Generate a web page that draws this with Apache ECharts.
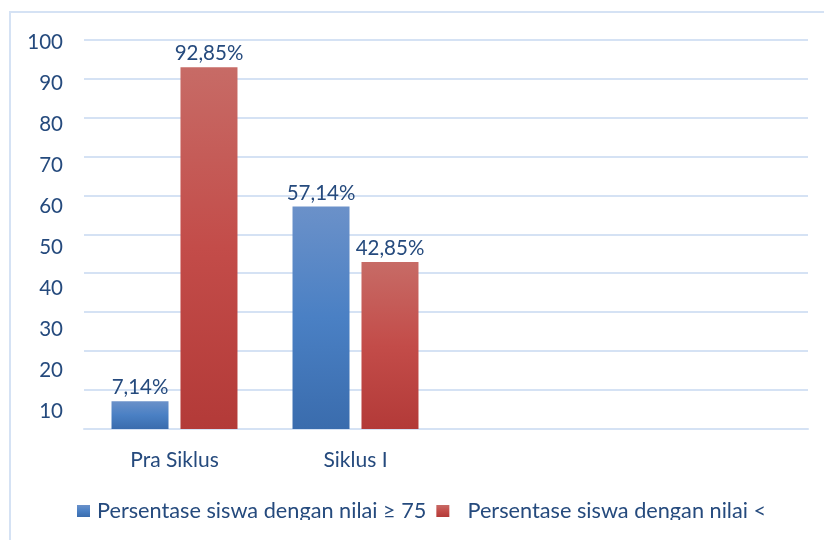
<!DOCTYPE html>
<html>
<head>
<meta charset="utf-8">
<script src="https://cdn.jsdelivr.net/npm/echarts@6/dist/echarts.min.js"></script>
<style>html,body{margin:0;padding:0;background:#fff}#c{width:824px;height:540px}</style>
</head>
<body>
<div id="c"></div>
<script>
var categories = ['Pra Siklus', 'Siklus I', '', ''];
var seriesNames = ['Persentase siswa dengan nilai \u2265 75', 'Persentase siswa dengan nilai <'];
var valuesAbove = [7.14, 57.14, null, null];
var valuesBelow = [92.85, 42.85, null, null];
var labelsAbove = ['7,14%', '57,14%', '', ''];
var labelsBelow = ['92,85%', '42,85%', '', ''];
var yTicks = [0, 10, 20, 30, 40, 50, 60, 70, 80, 90, 100];

var txt = '#254a7d';
var gridCol = '#d5e2f4';
var font = 'Lato';

var chart = echarts.init(document.getElementById('c'), null, {renderer: 'canvas'});
chart.setOption({
  animation: false,
  backgroundColor: '#fff',
  textStyle: {fontFamily: font},
  grid: [
    {left: 84, right: 16, top: 39.5, bottom: 111},
    {left: 84, right: 16, top: 42, bottom: 88}
  ],
  xAxis: [
    {type: 'category', gridIndex: 0, data: categories,
     axisLine: {show: true, lineStyle: {color: gridCol, width: 2}},
     axisTick: {show: false},
     axisLabel: {color: txt, fontSize: 21, fontFamily: font, margin: 21}},
    {type: 'category', gridIndex: 1, data: categories, show: false}
  ],
  yAxis: [
    {type: 'value', gridIndex: 0, min: 0, max: 100, interval: 10,
     axisLabel: {show: false}, axisLine: {show: false}, axisTick: {show: false},
     splitLine: {lineStyle: {color: gridCol, width: 2}}},
    {type: 'value', gridIndex: 1, min: yTicks[0], max: yTicks[yTicks.length - 1], interval: 10,
     axisLine: {show: false}, axisTick: {show: false}, splitLine: {show: false},
     axisLabel: {color: txt, fontSize: 20.5, fontFamily: font, margin: 21,
       formatter: function (v) { return v === 0 ? '' : String(v); }}}
  ],
  legend: {
    left: 72, top: 495, itemWidth: 13, itemHeight: 12, itemGap: 10,
    icon: 'rect',
    textStyle: {color: txt, fontSize: 21.7, fontFamily: font, padding: [10, 0, 0, 2]},
    formatter: function (n) { return n === seriesNames[1] ? '  ' + n : n; },
    data: seriesNames
  },
  series: [
    {name: seriesNames[0], type: 'bar', xAxisIndex: 0, yAxisIndex: 0,
     data: valuesAbove, barWidth: 57, barGap: '21%',
     itemStyle: {color: new echarts.graphic.LinearGradient(0, 0, 0, 1, [
       {offset: 0, color: '#6b91c9'}, {offset: 0.5, color: '#4a80c4'}, {offset: 1, color: '#3a6cad'}])},
     label: {show: true, position: 'top', distance: 3, color: txt, fontSize: 20.5, fontFamily: font,
       formatter: function (p) { return labelsAbove[p.dataIndex]; }}},
    {name: seriesNames[1], type: 'bar', xAxisIndex: 0, yAxisIndex: 0,
     data: valuesBelow, barWidth: 57,
     itemStyle: {color: new echarts.graphic.LinearGradient(0, 0, 0, 1, [
       {offset: 0, color: '#c76b66'}, {offset: 0.5, color: '#c34c49'}, {offset: 1, color: '#b33a38'}])},
     label: {show: true, position: 'top', distance: 3, color: txt, fontSize: 20.5, fontFamily: font,
       formatter: function (p) { return labelsBelow[p.dataIndex]; }}}
  ],
  graphic: [
    {type: 'rect', z: 100, shape: {x: 12, y: 520, width: 830, height: 30}, style: {fill: '#fff'}},
    {type: 'rect', z: 101, shape: {x: 10, y: 12, width: 830, height: 560},
     style: {fill: 'none', stroke: gridCol, lineWidth: 2}}
  ]
});
</script>
</body>
</html>
